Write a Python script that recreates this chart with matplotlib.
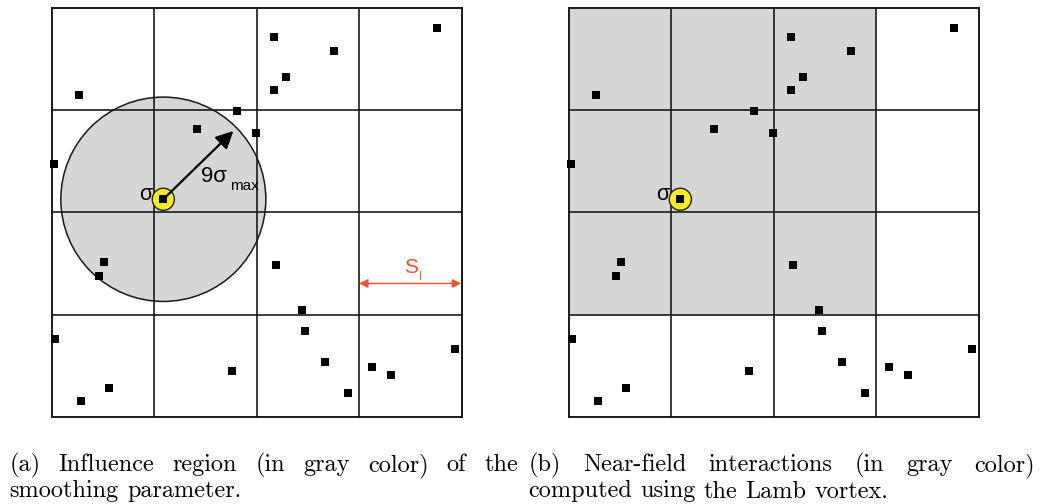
import matplotlib
matplotlib.use("Agg")
import matplotlib.pyplot as plt
from matplotlib.patches import Circle, Rectangle

# ---------------- data (cell units, y measured from the top) ----------------
n_cells = 4
pts_x = [2.17, 2.757, 3.762, 2.289, 2.172, 0.269, 1.811, 1.42, 1.996, 0.025,
         1.089, 0.513, 0.464, 2.191, 2.445, 2.474, 2.669, 2.894, 0.035, 0.562,
         0.289, 1.762, 3.128, 3.313, 3.938]
pts_y = [0.287, 0.424, 0.199, 0.678, 0.805, 0.854, 1.011, 1.184, 1.226, 1.529,
         1.872, 2.488, 2.625, 2.518, 2.958, 3.163, 3.467, 3.77, 3.242, 3.721,
         3.848, 3.555, 3.516, 3.594, 3.34]
center = (1.089, 1.872)
influence_radius = 1.0
near_cells_cols = [0, 1, 2]
near_cells_rows = [0, 1, 2]

caption_a = ["(a) Influence region (in gray color) of the", "smoothing parameter."]
caption_b = ["(b) Near-field interactions (in gray color)", "computed using the Lamb vortex."]

GRAY = "#d5d6d6"
YELLOW = "#f8ec1c"
RED = "#f0502a"

W, H = 1040, 504
fig = plt.figure(figsize=(W / 100, H / 100), dpi=100)


def make_ax(left_px):
    ax = fig.add_axes([left_px / W, (H - 416.7) / H, 410 / W, 408.7 / H])
    ax.set_xlim(0, n_cells)
    ax.set_ylim(n_cells, 0)
    ax.axis("off")
    for k in range(n_cells + 1):
        lw = 1.4 if k in (0, n_cells) else 1.2
        ax.plot([k, k], [0, n_cells], color="#1a1a1a", lw=lw, clip_on=False, zorder=3,
                solid_capstyle="projecting")
        ax.plot([0, n_cells], [k, k], color="#1a1a1a", lw=lw, clip_on=False, zorder=3,
                solid_capstyle="projecting")
    return ax


def draw_points(ax):
    ax.plot(pts_x, pts_y, "s", color="black", ms=5.3, mew=0, clip_on=False, zorder=6)
    ax.add_patch(Circle(center, 0.108, fc=YELLOW, ec="#222222", lw=1.0, zorder=5))
    ax.text(center[0] - 0.24, center[1] + 0.007, "σ", fontsize=15.5,
            family="Liberation Sans", va="baseline", ha="left", zorder=7)


# ---------------- panel (a) ----------------
axa = make_ax(51.7)
axa.add_patch(Circle(center, influence_radius, fc=GRAY, ec="#1a1a1a", lw=1.1, zorder=1))
draw_points(axa)
arrow_tip = (1.772, 1.204)
axa.annotate("", xy=arrow_tip, xytext=center,
             arrowprops=dict(arrowstyle="-|>", mutation_scale=26, lw=1.6,
                             color="black", shrinkA=0, shrinkB=0), zorder=8)
axa.text(1.459, 1.70, "9σ", fontsize=16, family="Liberation Sans",
         va="baseline", ha="left", zorder=8)
axa.text(1.74, 1.781, "max", fontsize=11, family="Liberation Sans",
         va="baseline", ha="left", zorder=8)
# cell size indicator
axa.annotate("", xy=(3.995, 2.696), xytext=(2.999, 2.696),
             arrowprops=dict(arrowstyle="<|-|>", mutation_scale=13, lw=1.0,
                             color=RED, shrinkA=0, shrinkB=0), zorder=8)
axa.text(3.44, 2.596, "S", fontsize=15, family="Liberation Sans", color=RED,
         va="baseline", ha="left", zorder=8)
axa.text(3.585, 2.661, "I", fontsize=8.5, family="Liberation Sans", color=RED,
         va="baseline", ha="left", zorder=8)

# ---------------- panel (b) ----------------
axb = make_ax(568.7)
for c in near_cells_cols:
    for r in near_cells_rows:
        axb.add_patch(Rectangle((c, r), 1, 1, fc=GRAY, ec="none", zorder=1))
draw_points(axb)

# ---------------- captions ----------------
fig.canvas.draw()
renderer = fig.canvas.get_renderer()
CAP_FONT = dict(fontsize=17.5, family="cmr10", va="baseline", ha="left")


def word_widths(words):
    ws = []
    for w in words:
        t = fig.text(0, 0, w, **CAP_FONT)
        ws.append(t.get_window_extent(renderer).width)
        t.remove()
    return ws


def place_line(text, x0, baseline, x1=None):
    words = text.split(" ")
    ws = word_widths(words)
    sp = word_widths(["a a"])[0] - word_widths(["aa"])[0]
    if x1 is not None and len(words) > 1:
        sp = (x1 - x0 - sum(ws)) / (len(words) - 1)
    x = x0
    for w, wd in zip(words, ws):
        fig.text(x / W, (H - baseline) / H, w, **CAP_FONT)
        x += wd + sp


place_line(caption_a[0], 9.5, 471, 518)
place_line(caption_a[1], 9.5, 497.5)
place_line(caption_b[0], 529, 471, 1035)
place_line(caption_b[1], 528.5, 497.5)

fig.savefig("out.png", dpi=100)
